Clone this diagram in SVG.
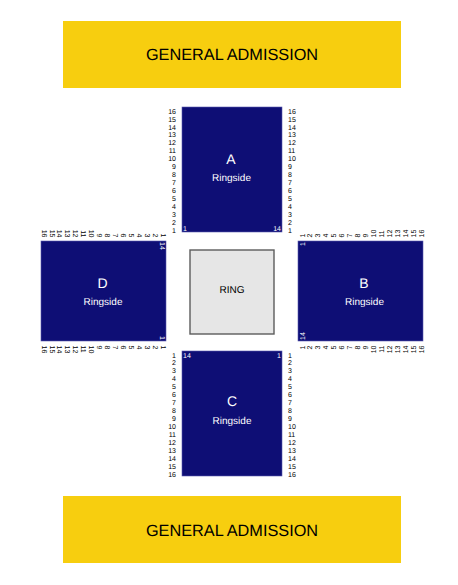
<svg xmlns="http://www.w3.org/2000/svg" width="458" height="585" viewBox="0 0 458 585">
<style>
text{font-family:"Liberation Sans",Arial,sans-serif;fill:#000;text-rendering:geometricPrecision}
.ga{fill:#f7ce0f}
.sec{fill:#0e0e75;stroke:#5a5ab0;stroke-width:.6}
.ring{fill:#e6e6e6;stroke:#5c5c5c;stroke-width:1.4}
.big{font-size:16.300px;text-anchor:middle}
.l{font-size:14px;fill:#fff;text-anchor:middle}
.s{font-size:10px;fill:#fff;text-anchor:middle}
.r{font-size:10px;text-anchor:middle}
.n{font-size:7px}
.w{font-size:7px;fill:#fff}
.e{text-anchor:end}
</style>
<rect width="458" height="585" fill="#fff"/>
<g id="ga-top"><rect class="ga" x="63" y="21" width="338" height="67"/><text class="big" x="232" y="60">GENERAL ADMISSION</text></g>
<g id="ga-bottom"><rect class="ga" x="63" y="496" width="338" height="67"/><text class="big" x="232" y="536">GENERAL ADMISSION</text></g>
<g id="ring"><rect class="ring" x="190" y="250" width="84" height="84"/><text class="r" x="232" y="293">RING</text></g>
<g id="section-a"><rect class="sec" x="182" y="107" width="100" height="125"/><text class="l" x="231" y="164">A</text><text class="s" x="231.500" y="181">Ringside</text>
<text class="w" x="183" y="231">1</text><text class="w e" x="281" y="231">14</text>
<g class="n e"><text x="176" y="232.600">1</text><text x="176" y="224.700">2</text><text x="176" y="216.700">3</text><text x="176" y="208.800">4</text><text x="176" y="200.900">5</text><text x="176" y="192.900">6</text><text x="176" y="185">7</text><text x="176" y="177.100">8</text><text x="176" y="169.200">9</text><text x="176" y="161.200">10</text><text x="176" y="153.300">11</text><text x="176" y="145.400">12</text><text x="176" y="137.400">13</text><text x="176" y="129.500">14</text><text x="176" y="121.600">15</text><text x="176" y="113.600">16</text></g>
<g class="n"><text x="288" y="232.600">1</text><text x="288" y="224.700">2</text><text x="288" y="216.700">3</text><text x="288" y="208.800">4</text><text x="288" y="200.900">5</text><text x="288" y="192.900">6</text><text x="288" y="185">7</text><text x="288" y="177.100">8</text><text x="288" y="169.200">9</text><text x="288" y="161.200">10</text><text x="288" y="153.300">11</text><text x="288" y="145.400">12</text><text x="288" y="137.400">13</text><text x="288" y="129.500">14</text><text x="288" y="121.600">15</text><text x="288" y="113.600">16</text></g></g>
<g id="section-c"><rect class="sec" x="182" y="351" width="100" height="125"/><text class="l" x="232" y="406">C</text><text class="s" x="232" y="424">Ringside</text>
<text class="w e" x="281" y="358">1</text><text class="w" x="183" y="358">14</text>
<g class="n e"><text x="176" y="357.500">1</text><text x="176" y="365.400">2</text><text x="176" y="373.400">3</text><text x="176" y="381.300">4</text><text x="176" y="389.200">5</text><text x="176" y="397.200">6</text><text x="176" y="405.100">7</text><text x="176" y="413">8</text><text x="176" y="420.900">9</text><text x="176" y="428.900">10</text><text x="176" y="436.800">11</text><text x="176" y="444.700">12</text><text x="176" y="452.700">13</text><text x="176" y="460.600">14</text><text x="176" y="468.500">15</text><text x="176" y="476.500">16</text></g>
<g class="n"><text x="288" y="357.500">1</text><text x="288" y="365.400">2</text><text x="288" y="373.400">3</text><text x="288" y="381.300">4</text><text x="288" y="389.200">5</text><text x="288" y="397.200">6</text><text x="288" y="405.100">7</text><text x="288" y="413">8</text><text x="288" y="420.900">9</text><text x="288" y="428.900">10</text><text x="288" y="436.800">11</text><text x="288" y="444.700">12</text><text x="288" y="452.700">13</text><text x="288" y="460.600">14</text><text x="288" y="468.500">15</text><text x="288" y="476.500">16</text></g></g>
<g id="section-b"><rect class="sec" x="298" y="241" width="125" height="100"/><text class="l" x="364" y="288">B</text><text class="s" x="364.500" y="305">Ringside</text>
<g transform="rotate(-90)"><text class="w e" x="-242" y="305">1</text><text class="w" x="-340" y="305">14</text></g>
<g class="n" transform="rotate(-90)"><text x="-237.500" y="304.500">1</text><text x="-237.500" y="312.400">2</text><text x="-237.500" y="320.400">3</text><text x="-237.500" y="328.300">4</text><text x="-237.500" y="336.200">5</text><text x="-237.500" y="344.200">6</text><text x="-237.500" y="352.100">7</text><text x="-237.500" y="360">8</text><text x="-237.500" y="367.900">9</text><text x="-237.500" y="375.900">10</text><text x="-237.500" y="383.800">11</text><text x="-237.500" y="391.700">12</text><text x="-237.500" y="399.700">13</text><text x="-237.500" y="407.600">14</text><text x="-237.500" y="415.500">15</text><text x="-237.500" y="423.500">16</text></g>
<g class="n e" transform="rotate(-90)"><text x="-345.500" y="304.500">1</text><text x="-345.500" y="312.400">2</text><text x="-345.500" y="320.400">3</text><text x="-345.500" y="328.300">4</text><text x="-345.500" y="336.200">5</text><text x="-345.500" y="344.200">6</text><text x="-345.500" y="352.100">7</text><text x="-345.500" y="360">8</text><text x="-345.500" y="367.900">9</text><text x="-345.500" y="375.900">10</text><text x="-345.500" y="383.800">11</text><text x="-345.500" y="391.700">12</text><text x="-345.500" y="399.700">13</text><text x="-345.500" y="407.600">14</text><text x="-345.500" y="415.500">15</text><text x="-345.500" y="423.500">16</text></g></g>
<g id="section-d"><rect class="sec" x="41" y="241" width="125" height="100"/><text class="l" x="102.500" y="288">D</text><text class="s" x="103" y="305">Ringside</text>
<g transform="rotate(90)"><text class="w" x="242" y="-159.500">14</text><text class="w e" x="340" y="-159.500">1</text></g>
<g class="n e" transform="rotate(90)"><text x="237.500" y="-160.500">1</text><text x="237.500" y="-152.600">2</text><text x="237.500" y="-144.600">3</text><text x="237.500" y="-136.700">4</text><text x="237.500" y="-128.800">5</text><text x="237.500" y="-120.800">6</text><text x="237.500" y="-112.900">7</text><text x="237.500" y="-105">8</text><text x="237.500" y="-97.100">9</text><text x="237.500" y="-89.100">10</text><text x="237.500" y="-81.200">11</text><text x="237.500" y="-73.300">12</text><text x="237.500" y="-65.300">13</text><text x="237.500" y="-57.400">14</text><text x="237.500" y="-49.500">15</text><text x="237.500" y="-41.500">16</text></g>
<g class="n" transform="rotate(90)"><text x="345.500" y="-160.500">1</text><text x="345.500" y="-152.600">2</text><text x="345.500" y="-144.600">3</text><text x="345.500" y="-136.700">4</text><text x="345.500" y="-128.800">5</text><text x="345.500" y="-120.800">6</text><text x="345.500" y="-112.900">7</text><text x="345.500" y="-105">8</text><text x="345.500" y="-97.100">9</text><text x="345.500" y="-89.100">10</text><text x="345.500" y="-81.200">11</text><text x="345.500" y="-73.300">12</text><text x="345.500" y="-65.300">13</text><text x="345.500" y="-57.400">14</text><text x="345.500" y="-49.500">15</text><text x="345.500" y="-41.500">16</text></g></g>
</svg>
